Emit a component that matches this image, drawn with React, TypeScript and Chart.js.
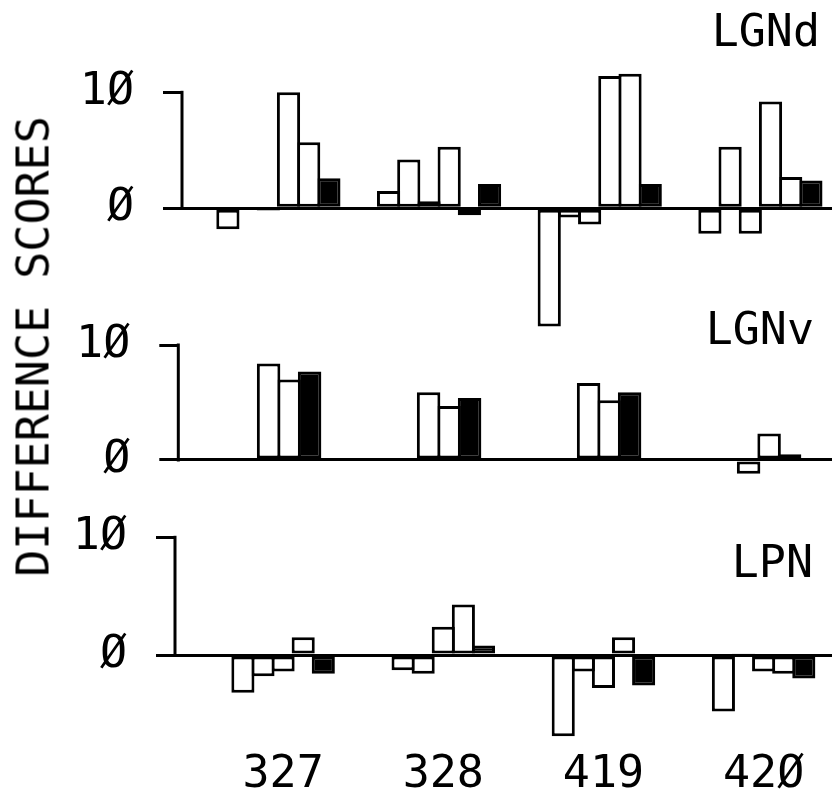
import React, { useEffect, useRef } from 'react';
import { Chart, registerables } from 'chart.js';

Chart.register(...registerables);

// ---- data ----
const groups = ['327', '328', '419', '420'];
const yTickValues = [0, 10];

// LGNd: five conditions + mean (filled)
const lgndCond1 = [-1.8, 1.5, -10.2, -2.2];
const lgndCond2 = [0, 4.2, -0.8, 5.3];
const lgndCond3 = [-0.2, 0.6, -1.4, -2.2];
const lgndCond4 = [10.0, 5.3, 11.4, 9.2];
const lgndCond5 = [5.7, -0.6, 11.6, 2.7];
const lgndMean = [2.6, 2.1, 2.1, 2.4];

// LGNv: two conditions + mean (filled)
const lgnvCond1 = [8.4, 5.9, 6.7, -1.2];
const lgnvCond2 = [7.0, 4.7, 5.2, 2.3];
const lgnvMean = [7.7, 5.4, 5.9, 0.5];

// LPN: four conditions + mean (filled)
const lpnCond1 = [-3.2, -1.3, -6.9, -4.8];
const lpnCond2 = [-1.8, -1.6, -1.4, 0.1];
const lpnCond3 = [-1.4, 2.4, -2.8, -1.4];
const lpnCond4 = [1.5, 4.3, 1.5, -1.6];
const lpnMean = [-1.6, 0.8, -2.6, -2.0];

const yAxisTitle = 'DIFFERENCE SCORES';

// ---- style / layout ----
const FONT = "'DejaVu Sans Mono', 'Liberation Mono', monospace";
const FONT_SIZE = 45;
const LINE = 3;
const W = 832;
const plotter = (s: string) => s.replace(/0/g, '\u00D8');

type Series = { values: number[]; filled: boolean };
type Layout = {
  canvasTop: number; canvasH: number; axisX: number; zeroY: number; tenY: number;
  yMin: number; yMax: number; firstCenter: number; pitch: number; chunk: number;
  labelRight: number; labelMid: number; showGroups: boolean;
};
type Panel = { name: string; series: Series[]; layout: Layout };

const panels: Panel[] = [
  {
    name: 'LGNd',
    series: [
      { values: lgndCond1, filled: false },
      { values: lgndCond2, filled: false },
      { values: lgndCond3, filled: false },
      { values: lgndCond4, filled: false },
      { values: lgndCond5, filled: false },
      { values: lgndMean, filled: true },
    ],
    layout: { canvasTop: 0, canvasH: 337, axisX: 182, zeroY: 208.3, tenY: 92.3, yMin: -11, yMax: 12.5,
      firstCenter: 278.4, pitch: 160.67, chunk: 20.2, labelRight: 820, labelMid: 34, showGroups: false },
  },
  {
    name: 'LGNv',
    series: [
      { values: lgnvCond1, filled: false },
      { values: lgnvCond2, filled: false },
      { values: lgnvMean, filled: true },
    ],
    layout: { canvasTop: 300, canvasH: 180, axisX: 178.3, zeroY: 460, tenY: 345, yMin: -1.6, yMax: 10,
      firstCenter: 289.1, pitch: 160, chunk: 20.5, labelRight: 814, labelMid: 332, showGroups: false },
  },
  {
    name: 'LPN',
    series: [
      { values: lpnCond1, filled: false },
      { values: lpnCond2, filled: false },
      { values: lpnCond3, filled: false },
      { values: lpnCond4, filled: false },
      { values: lpnMean, filled: true },
    ],
    layout: { canvasTop: 490, canvasH: 306, axisX: 175, zeroY: 655, tenY: 537.3, yMin: -7.4, yMax: 10,
      firstCenter: 283.1, pitch: 160.17, chunk: 20.1, labelRight: 813, labelMid: 565, showGroups: true },
  },
];

const panelDecor = {
  id: 'panelDecor',
  beforeDatasetsDraw(chart: any) {
    const y = chart.scales.y;
    const { left } = chart.chartArea;
    const ctx = chart.ctx;
    ctx.save();
    ctx.strokeStyle = '#000';
    ctx.lineWidth = LINE;
    ctx.lineCap = 'square';
    ctx.beginPath();
    ctx.moveTo(left, y.getPixelForValue(Math.max(...yTickValues)));
    ctx.lineTo(left, y.getPixelForValue(Math.min(...yTickValues)));
    ctx.stroke();
    ctx.restore();
  },
  afterDraw(chart: any, _args: any, opts: any) {
    const ctx = chart.ctx;
    ctx.save();
    ctx.font = `${FONT_SIZE}px ${FONT}`;
    ctx.fillStyle = '#000';
    ctx.textAlign = 'right';
    ctx.textBaseline = 'middle';
    ctx.fillText(opts.text, opts.x, opts.y);
    ctx.restore();
  },
};

function PanelChart({ panel }: { panel: Panel }) {
  const ref = useRef<HTMLCanvasElement | null>(null);
  const L = panel.layout;
  useEffect(() => {
    if (!ref.current) return;
    const ppu = (L.zeroY - L.tenY) / 10;
    const chartTop = L.zeroY - L.yMax * ppu;
    const chartBottom = L.zeroY - L.yMin * ppu;
    const plotW = W - L.axisX;
    const xMin = -(L.firstCenter - L.axisX) / L.pitch;
    const xMax = xMin + plotW / L.pitch;
    const xAxisH = L.showGroups ? L.canvasTop + L.canvasH - chartBottom : 0;
    const padBottom = L.showGroups ? 0 : L.canvasTop + L.canvasH - chartBottom;
    const n = panel.series.length;

    const chart = new Chart(ref.current, {
      type: 'bar',
      data: {
        datasets: panel.series.map((s) => ({
          data: s.values.map((v, i) => ({ x: i, y: v })),
          backgroundColor: s.filled ? '#000' : '#fff',
          borderColor: '#000',
          borderWidth: LINE,
          borderSkipped: false,
          categoryPercentage: (n * L.chunk) / L.pitch,
          barPercentage: 1 + LINE / L.chunk,
        })) as any,
      },
      options: {
        responsive: false,
        animation: false,
        events: [],
        layout: { padding: { top: chartTop - L.canvasTop, bottom: padBottom, left: 0, right: 0 } },
        plugins: {
          legend: { display: false },
          tooltip: { enabled: false },
          panelDecor: { text: panel.name, x: L.labelRight, y: L.labelMid - L.canvasTop },
        } as any,
        scales: {
          x: {
            type: 'linear',
            min: xMin,
            max: xMax,
            offset: false,
            display: L.showGroups,
            grid: { display: false, drawTicks: false, offset: false },
            border: { display: false },
            afterBuildTicks: (s: any) => { s.ticks = groups.map((_, i) => ({ value: i })); },
            afterFit: (s: any) => { s.height = xAxisH; s.paddingLeft = 0; s.paddingRight = 0; },
            ticks: {
              callback: (v: any) => plotter(groups[v as number] ?? ''),
              font: { family: FONT, size: FONT_SIZE },
              color: '#000',
              padding: 6,
              maxRotation: 0,
              autoSkip: false,
            },
          },
          y: {
            type: 'linear',
            min: L.yMin,
            max: L.yMax,
            afterBuildTicks: (s: any) => { s.ticks = yTickValues.map((v) => ({ value: v })); },
            afterFit: (s: any) => { s.width = L.axisX; s.paddingTop = 0; s.paddingBottom = 0; },
            grid: {
              color: (c: any) => (c.tick && c.tick.value === 0 ? '#000' : 'rgba(0,0,0,0)'),
              lineWidth: LINE,
              tickColor: '#000',
              tickLength: 19,
              drawOnChartArea: true,
            },
            border: { display: false },
            ticks: {
              callback: (v: any) => plotter(String(v)),
              font: { family: FONT, size: FONT_SIZE },
              color: '#000',
              padding: 29,
            },
          },
        },
      } as any,
      plugins: [panelDecor as any],
    });
    return () => chart.destroy();
  }, [panel]);

  return (
    <canvas
      ref={ref}
      width={W}
      height={L.canvasH}
      style={{ position: 'absolute', left: 0, top: L.canvasTop, width: W, height: L.canvasH }}
    />
  );
}

export default function App() {
  return (
    <div style={{ position: 'relative', width: W, height: 796, background: '#fff', overflow: 'hidden' }}>
      <style>{'body{margin:0;background:#fff}'}</style>
      {panels.map((p) => (
        <PanelChart key={p.name} panel={p} />
      ))}
      <div
        style={{
          position: 'absolute',
          left: 32.5 - 240,
          top: 346.5 - FONT_SIZE / 2,
          width: 480,
          height: FONT_SIZE,
          lineHeight: `${FONT_SIZE}px`,
          fontSize: FONT_SIZE,
          fontFamily: FONT,
          color: '#000',
          textAlign: 'center',
          whiteSpace: 'nowrap',
          transform: 'rotate(-90deg)',
        }}
      >
        {yAxisTitle}
      </div>
    </div>
  );
}
